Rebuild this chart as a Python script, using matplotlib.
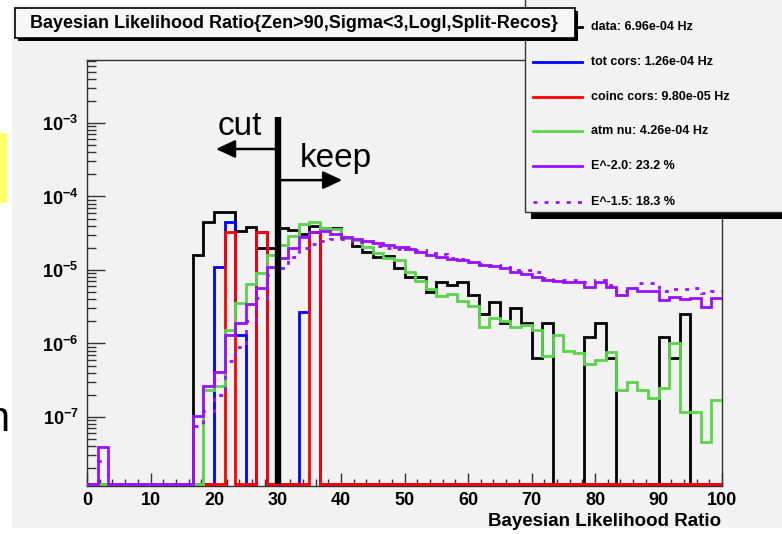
import matplotlib
matplotlib.use("Agg")
import matplotlib.pyplot as plt
import numpy as np
from matplotlib.patches import Rectangle
from matplotlib.lines import Line2D
from matplotlib.ticker import FixedLocator, FixedFormatter, MultipleLocator

plt.rcParams["font.family"] = ["Liberation Sans", "DejaVu Sans"]
plt.rcParams["mathtext.fontset"] = "custom"
plt.rcParams["mathtext.rm"] = "Liberation Sans"
plt.rcParams["mathtext.bf"] = "Liberation Sans:bold"

W, H = 782, 534

# 60 bins between 0 and 100
edges = np.linspace(0, 100, 61)

data = [0, 0, 0, 0, 0, 0, 0, 0, 0, 0,
        1.6e-5, 4.5e-5, 6.1e-5, 6.1e-5, 3.4e-5, 3.8e-5, 2.0e-5, 2.0e-5, 3.7e-5, 3.5e-5,
        3.1e-5, 4.0e-5, 3.7e-5, 3.7e-5, 2.7e-5, 2.1e-5, 1.77e-5, 1.52e-5, 1.57e-5, 1.05e-5,
        8.1e-6, 8.1e-6, 5.0e-6, 6.9e-6, 6.3e-6, 6.9e-6, 4.5e-6, 2.5e-6, 3.7e-6, 1.9e-6,
        3.0e-6, 1.9e-6, 6.3e-7, 1.9e-6, 0, 0, 0, 1.24e-6, 1.9e-6, 6.3e-7,
        0, 0, 0, 0, 1.24e-6, 6.3e-7, 2.5e-6, 0, 0, 0]

tot_cors = [0] * 60
tot_cors[12] = 1.1e-5
tot_cors[13] = 4.5e-5
tot_cors[14] = 1.3e-6
tot_cors[16] = 3.25e-5
tot_cors[20] = 2.7e-6
tot_cors[21] = 3.3e-5

coinc_cors = [0] * 60
coinc_cors[13] = 3.25e-5
coinc_cors[16] = 3.25e-5
coinc_cors[21] = 3.3e-5

atm_nu = [0, 0, 0, 0, 0, 0, 0, 0, 0, 0,
          0, 2.3e-7, 2.65e-7, 1.53e-6, 3.5e-6, 6.4e-6, 9.2e-6, 1.62e-5, 2.2e-5, 2.9e-5,
          4.2e-5, 4.5e-5, 3.7e-5, 3.6e-5, 2.75e-5, 2.56e-5, 2.07e-5, 1.69e-5, 1.44e-5, 1.37e-5,
          9.5e-6, 7.0e-6, 5.5e-6, 4.4e-6, 4.7e-6, 3.8e-6, 3.2e-6, 1.7e-6, 2.2e-6, 2.05e-6,
          1.7e-6, 1.79e-6, 1.53e-6, 6.7e-7, 1.3e-6, 8.0e-7, 7.4e-7, 5.3e-7, 6.0e-7, 7.6e-7,
          2.3e-7, 3.0e-7, 2.3e-7, 1.8e-7, 2.45e-7, 1.02e-6, 1.17e-7, 1.17e-7, 4.6e-8, 1.7e-7]

e20 = [0, 3.95e-8, 0, 0, 0, 0, 0, 0, 0, 0,
       1.04e-7, 2.6e-7, 4.06e-7, 1.3e-6, 1.88e-6, 3.45e-6, 5.6e-6, 1.09e-5, 1.44e-5, 2.0e-5,
       2.84e-5, 3.25e-5, 3.4e-5, 3.1e-5, 2.84e-5, 2.64e-5, 2.48e-5, 2.3e-5, 2.19e-5, 2.07e-5,
       1.91e-5, 1.77e-5, 1.6e-5, 1.52e-5, 1.41e-5, 1.37e-5, 1.27e-5, 1.17e-5, 1.13e-5, 1.05e-5,
       9.5e-6, 8.8e-6, 8.0e-6, 7.3e-6, 7.1e-6, 6.8e-6, 6.8e-6, 5.9e-6, 6.8e-6, 5.9e-6,
       4.6e-6, 5.7e-6, 5.25e-6, 5.25e-6, 3.9e-6, 4.3e-6, 4.0e-6, 4.2e-6, 3.16e-6, 4.2e-6]

e15 = [0, 2.5e-8, 0, 0, 0, 0, 0, 0, 0, 0,
       7.5e-8, 1.22e-7, 2.0e-7, 5.8e-7, 9.0e-7, 2.05e-6, 4.1e-6, 8.5e-6, 1.08e-5, 1.52e-5,
       1.97e-5, 2.26e-5, 2.5e-5, 2.6e-5, 2.6e-5, 2.43e-5, 2.4e-5, 2.1e-5, 1.97e-5, 1.95e-5,
       2.05e-5, 1.85e-5, 1.69e-5, 1.65e-5, 1.47e-5, 1.4e-5, 1.3e-5, 1.21e-5, 1.17e-5, 1.09e-5,
       1.0e-5, 1.0e-5, 9.4e-6, 7.9e-6, 7.4e-6, 7.3e-6, 7.3e-6, 6.8e-6, 7.2e-6, 6.3e-6,
       5.1e-6, 5.6e-6, 6.7e-6, 6.7e-6, 5.2e-6, 5.45e-6, 5.45e-6, 5.6e-6, 4.9e-6, 5.2e-6]

legend_labels = ["data: 6.96e-04 Hz", "tot cors: 1.26e-04 Hz", "coinc cors: 9.80e-05 Hz",
                 "atm nu: 4.26e-04 Hz", "E^-2.0: 23.2 %", "E^-1.5: 18.3 %"]

BLUE = "#0000ff"
RED = "#ff0000"
GREEN = "#5ad44a"
PURPLE = "#9a10ff"
BG = "#f2f2f2"

ymin, ymax = 1.15e-8, 7.2e-3
floor = ymin * 1.05


def fx(px):
    return px / W


def fy(py):
    return 1 - py / H


fig = plt.figure(figsize=(W / 100, H / 100), dpi=100, facecolor="white")

# slide remnants and ROOT canvas
fig.patches.append(Rectangle((fx(0), fy(203)), fx(7), 70 / H, transform=fig.transFigure,
                             facecolor="#ffff66", edgecolor="none", zorder=-2))
fig.patches.append(Rectangle((fx(12), fy(528)), fx(770), 523 / H, transform=fig.transFigure,
                             facecolor=BG, edgecolor="none", zorder=-2))
fig.text(fx(-14), fy(420), "n", fontsize=30, color="black", va="center", ha="left")

ax = fig.add_axes([fx(87), fy(486), (722 - 87) / W, (486 - 60) / H])
ax.set_zorder(1)
ax.set_facecolor(BG)
ax.set_yscale("log")
ax.set_xlim(0, 100)
ax.set_ylim(ymin, ymax)

series = [
    (data, "black", "-", 2),
    (tot_cors, BLUE, "-", 3),
    (coinc_cors, RED, "-", 4),
    (atm_nu, GREEN, "-", 5),
    (e20, PURPLE, "-", 6),
    (e15, PURPLE, (0, (1.4, 2.6)), 7),
]
for vals, col, ls, z in series:
    v = np.maximum(np.array(vals, dtype=float), floor)
    ax.stairs(v, edges, baseline=None, color=col, lw=2, linestyle=ls, zorder=z)

# cut line with arrows
ax.vlines(30, floor, 1.21e-3, color="black", lw=4.6, zorder=9)
ax.annotate("", xy=(20.3, 4.43e-4), xytext=(29.7, 4.43e-4),
            arrowprops=dict(arrowstyle="-|>,head_length=0.58,head_width=0.27",
                            color="black", lw=1.8, shrinkA=0, shrinkB=0,
                            mutation_scale=20), zorder=9)
ax.annotate("", xy=(40.2, 1.67e-4), xytext=(30.3, 1.67e-4),
            arrowprops=dict(arrowstyle="-|>,head_length=0.58,head_width=0.27",
                            color="black", lw=1.8, shrinkA=0, shrinkB=0,
                            mutation_scale=20), zorder=9)
ax.text(24.0, 6.9e-4, "cut", fontsize=24, ha="center", va="baseline", zorder=9)
ax.text(39.2, 2.55e-4, "keep", fontsize=24, ha="center", va="baseline", zorder=9)

# axes styling
for s in ax.spines.values():
    s.set_color("#333333")
    s.set_linewidth(1.0)
ax.xaxis.set_major_locator(MultipleLocator(10))
ax.xaxis.set_minor_locator(MultipleLocator(2))
ax.tick_params(axis="x", which="major", direction="in", length=9.5, width=1,
               labelsize=13, pad=4, color="#333333")
ax.tick_params(axis="x", which="minor", direction="in", length=5, width=1, color="#333333")
for lab in ax.get_xticklabels():
    lab.set_fontweight("bold")

yt = [1e-7, 1e-6, 1e-5, 1e-4, 1e-3]
ax.yaxis.set_major_locator(FixedLocator(yt))
ax.yaxis.set_major_formatter(FixedFormatter([r"$\mathbf{10^{-7}}$", r"$\mathbf{10^{-6}}$",
                                             r"$\mathbf{10^{-5}}$", r"$\mathbf{10^{-4}}$",
                                             r"$\mathbf{10^{-3}}$"]))
minors = [m * 10.0 ** e for e in range(-8, -2) for m in range(2, 10)]
ax.yaxis.set_minor_locator(FixedLocator(minors))
ax.yaxis.set_minor_formatter(FixedFormatter([""] * len(minors)))
ax.tick_params(axis="y", which="major", direction="in", length=13, width=1,
               labelsize=13, pad=6, color="#333333")
ax.tick_params(axis="y", which="minor", direction="in", length=6.5, width=1, color="#333333")

fig.text(fx(721), fy(521), "Bayesian Likelihood Ratio", fontsize=13.5, fontweight="bold",
         ha="right", va="center", zorder=5)

# legend box (drawn by hand like the ROOT TLegend)
fig.patches.append(Rectangle((fx(531), fy(219)), fx(260), 225 / H, transform=fig.transFigure,
                             facecolor="black", edgecolor="none", zorder=20))
fig.patches.append(Rectangle((fx(525), fy(212)), fx(265), 225 / H, transform=fig.transFigure,
                             facecolor=BG, edgecolor="#333333", lw=1.0, zorder=21))
leg_y = [27, 62, 97, 131, 166, 202]
leg_style = [("black", "-"), (BLUE, "-"), (RED, "-"), (GREEN, "-"), (PURPLE, "-"),
             (PURPLE, (0, (1.4, 2.6)))]
for yy, lab, (col, ls) in zip(leg_y, legend_labels, leg_style):
    fig.add_artist(Line2D([fx(533), fx(582)], [fy(yy), fy(yy)], color=col, lw=2,
                          linestyle=ls, transform=fig.transFigure, zorder=22))
    fig.text(fx(591), fy(yy), lab, fontsize=9, fontweight="bold", va="center",
             ha="left", zorder=22)

# title box
fig.patches.append(Rectangle((fx(18), fy(41)), fx(560), 30 / H, transform=fig.transFigure,
                             facecolor="black", edgecolor="none", zorder=30))
fig.patches.append(Rectangle((fx(15), fy(38)), fx(560), 30 / H, transform=fig.transFigure,
                             facecolor="#f6f6f6", edgecolor="black", lw=1.2, zorder=31))
fig.text(fx(294), fy(23), "Bayesian Likelihood Ratio{Zen>90,Sigma<3,Logl,Split-Recos}",
         fontsize=13, fontweight="bold", ha="center", va="center", zorder=32)

fig.savefig("out.png", dpi=100, facecolor=fig.get_facecolor())
